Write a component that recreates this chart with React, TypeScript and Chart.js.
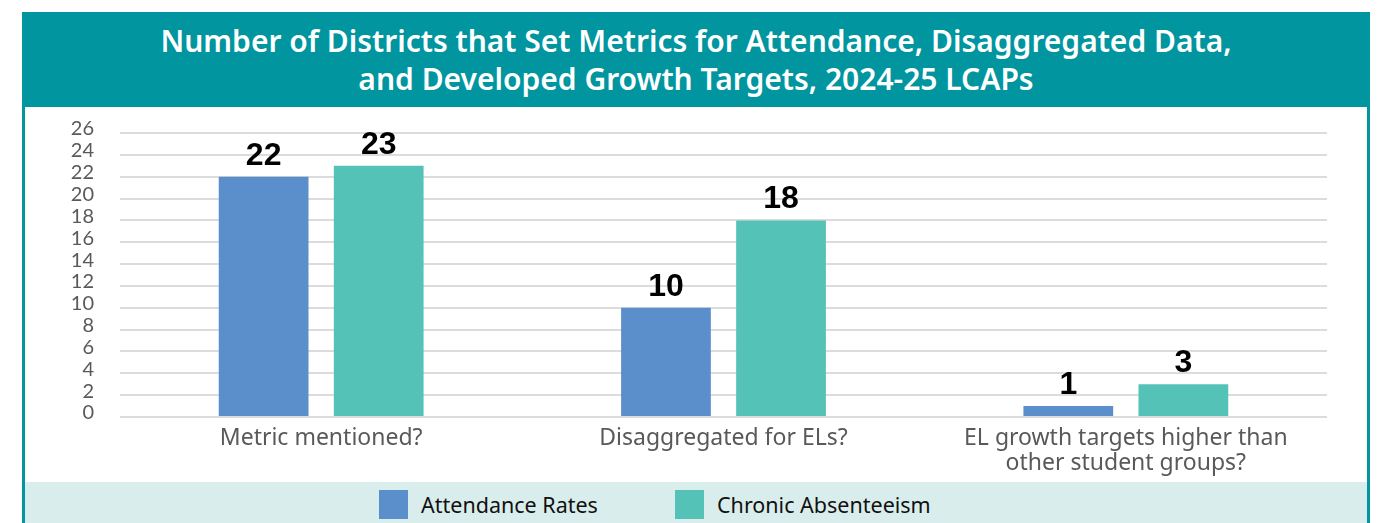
import React, { useEffect, useRef } from "react";
import { Chart, registerables } from "chart.js";

Chart.register(...registerables);

// ---- data ----
const titleLines = [
  "Number of Districts that Set Metrics for Attendance, Disaggregated Data,",
  "and Developed Growth Targets, 2024-25 LCAPs",
];
const categories: (string | string[])[] = [
  "Metric mentioned?",
  "Disaggregated for ELs?",
  ["EL growth targets higher than", "other student groups?"],
];
const seriesNames = ["Attendance Rates", "Chronic Absenteeism"];
const attendanceRates = [22, 10, 1];
const chronicAbsenteeism = [23, 18, 3];
const yMin = 0;
const yMax = 26;
const yStep = 2;

// ---- styles ----
const seriesColors = ["#5B8FCB", "#55C2B8"];
const headerTeal = "#00959F";
const bandColor = "#D9EEEC";
const gridColor = "#DCDCDC";
const axisTextColor = "#595959";
const FONT = "Lato, 'Noto Sans', sans-serif";
const WIDE_FONT = "'Noto Sans', 'Open Sans', sans-serif";

const valueLabelPlugin = {
  id: "valueLabels",
  afterDatasetsDraw(chart: any) {
    const ctx = chart.ctx;
    ctx.save();
    ctx.font = "bold 32px 'Liberation Sans', Arial, sans-serif";
    ctx.fillStyle = "#000000";
    ctx.textAlign = "center";
    ctx.textBaseline = "alphabetic";
    chart.data.datasets.forEach((ds: any, i: number) => {
      const meta = chart.getDatasetMeta(i);
      meta.data.forEach((bar: any, j: number) => {
        ctx.fillText(String(ds.data[j]), bar.x, bar.y - 12);
      });
    });
    ctx.restore();
  },
};

const yLabelPlugin = {
  id: "yLabels",
  afterDraw(chart: any) {
    const s = chart.scales.y;
    const ctx = chart.ctx;
    ctx.save();
    ctx.font = `20px ${FONT}`;
    ctx.fillStyle = axisTextColor;
    ctx.textAlign = "right";
    ctx.textBaseline = "middle";
    s.ticks.forEach((t: any) => {
      ctx.fillText(String(t.value), s.right - 26, s.getPixelForValue(t.value) - 4);
    });
    ctx.restore();
  },
};

export default function App() {
  const canvasRef = useRef<HTMLCanvasElement | null>(null);

  useEffect(() => {
    if (!canvasRef.current) return;
    const chart = new Chart(canvasRef.current, {
      type: "bar",
      data: {
        labels: categories as any,
        datasets: [
          {
            label: seriesNames[0],
            data: attendanceRates,
            backgroundColor: seriesColors[0],
            borderWidth: 0,
            barPercentage: 0.78,
            categoryPercentage: 0.572,
          },
          {
            label: seriesNames[1],
            data: chronicAbsenteeism,
            backgroundColor: seriesColors[1],
            borderWidth: 0,
            barPercentage: 0.78,
            categoryPercentage: 0.572,
          },
        ],
      },
      options: {
        animation: false,
        responsive: false,
        maintainAspectRatio: false,
        layout: { padding: { left: 0, top: 133, right: 55, bottom: 0 } },
        plugins: {
          legend: { display: false },
          title: { display: false },
          tooltip: { enabled: false },
        },
        scales: {
          x: {
            grid: { display: false, drawTicks: false },
            border: { display: false },
            ticks: {
              padding: 9,
              color: axisTextColor,
              font: { family: WIDE_FONT, size: 23, lineHeight: 1.087 },
              maxRotation: 0,
              autoSkip: false,
            },
            afterFit(scale: any) {
              scale.height = 106;
            },
          },
          y: {
            min: yMin,
            max: yMax,
            grid: { color: gridColor, lineWidth: 2, drawTicks: false },
            border: { display: false },
            ticks: { stepSize: yStep, display: false },
            afterFit(scale: any) {
              scale.width = 120;
            },
          },
        },
      },
      plugins: [valueLabelPlugin, yLabelPlugin],
    } as any);
    return () => chart.destroy();
  }, []);

  return (
    <div
      style={{
        position: "absolute",
        left: 0,
        top: 0,
        width: 1382,
        height: 523,
        overflow: "hidden",
        background: "#ffffff",
        fontFamily: FONT,
      }}
    >
      {/* frame */}
      <div
        style={{
          position: "absolute",
          left: 22,
          top: 12,
          width: 1348,
          height: 540,
          boxSizing: "border-box",
          borderLeft: `3px solid ${headerTeal}`,
          borderRight: `3px solid ${headerTeal}`,
          background: "#ffffff",
        }}
      />
      {/* header */}
      <div
        style={{
          position: "absolute",
          left: 22,
          top: 12,
          width: 1348,
          height: 95,
          background: headerTeal,
        }}
      />
      <div
        style={{
          position: "absolute",
          left: 22,
          top: 22,
          width: 1348,
          textAlign: "center",
          color: "#ffffff",
          fontFamily: WIDE_FONT,
          fontWeight: 600,
          fontSize: 30,
          lineHeight: "38px",
        }}
      >
        {titleLines.map((l, i) => (
          <div key={i}>{l}</div>
        ))}
      </div>
      {/* legend band */}
      <div
        style={{
          position: "absolute",
          left: 25,
          top: 482,
          width: 1342,
          height: 60,
          background: bandColor,
        }}
      />
      {seriesNames.map((name, i) => (
        <div
          key={name}
          style={{
            position: "absolute",
            left: i === 0 ? 379 : 675,
            top: 490,
            height: 29,
            display: "flex",
            alignItems: "center",
            whiteSpace: "nowrap",
          }}
        >
          <div style={{ width: 29, height: 29, background: seriesColors[i] }} />
          <div
            style={{
              marginLeft: 13,
              fontSize: 21.5,
              lineHeight: "29px",
              color: "#111111",
              fontFamily: WIDE_FONT,
            }}
          >
            {name}
          </div>
        </div>
      ))}
      <canvas
        ref={canvasRef}
        width={1382}
        height={523}
        style={{ position: "absolute", left: 0, top: 0, width: 1382, height: 523 }}
      />
    </div>
  );
}
